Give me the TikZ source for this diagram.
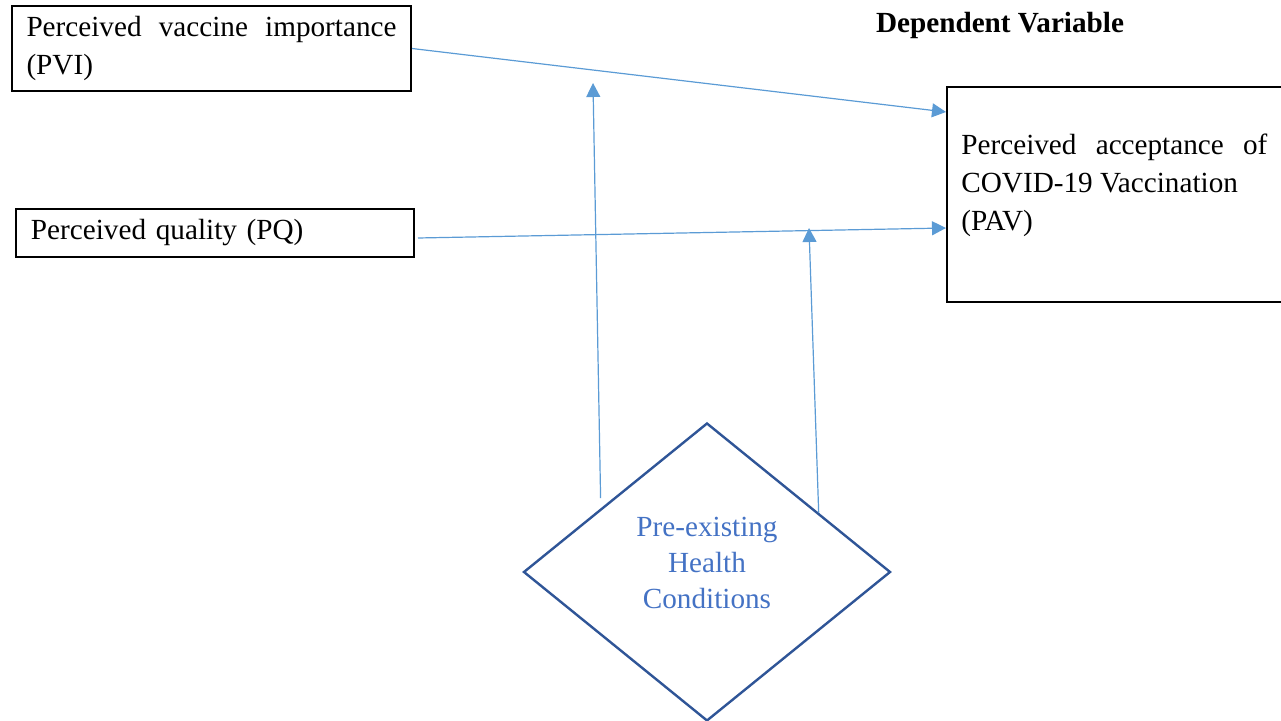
\documentclass[tikz,border=0pt]{standalone}
\usepackage{fontspec}
\setmainfont{Liberation Serif}
\usetikzlibrary{shapes.geometric,arrows.meta,calc}
\definecolor{linkblue}{HTML}{5B9BD5}
\definecolor{hcborder}{HTML}{2F5597}
\definecolor{hctext}{HTML}{4472C4}
\begin{document}
\begin{tikzpicture}[x=0.5pt,y=-0.5pt,>={Triangle[length=7pt,width=7pt]},
	font=\fontsize{14.6}{19}\selectfont,
	varbox/.style={draw,line width=1pt,rectangle,inner ysep=0pt,anchor=north west},
	link/.style={->,linkblue,line width=0.6pt}]
	\useasboundingbox (0,0) rectangle (1281,721);
	\node[varbox,text width=185pt,inner xsep=7.25pt,minimum height=42.5pt,align=justify] (pvi) at (11,5) {Perceived vaccine importance (PVI)};
	\node[varbox,text width=184pt,inner xsep=7.5pt,minimum height=24pt,align=left] (pq) at (15,208) {Perceived quality (PQ)};
	\node[varbox,minimum width=175pt,minimum height=107.5pt] (pavbox) at (946,86) {};
	\node[anchor=north west,inner sep=0pt,text width=153pt,align=justify] (pav) at (961,134) {Perceived acceptance of COVID-19 Vaccination\\(PAV)};
	\node[font=\fontsize{14.6}{19}\selectfont\bfseries] (dv) at (1000,25) {Dependent Variable};
	\node[diamond,draw=hcborder,line width=1.2pt,text=hctext,align=center,inner sep=0pt,minimum width=183.5pt,minimum height=149pt,font=\fontsize{14.6}{18}\selectfont] (hc) at (707,572) {Pre-existing\\Health\\Conditions\\[-9pt]\mbox{}};
	\coordinate (m1) at (593,83);
	\coordinate (m2) at (809,228);
	\draw[link] (pvi.east) -- ($(pavbox.north west)+(0,26)$);
	\draw[link] ($(pq.east)+(3,5)$) -- ($(pavbox.north west)+(0,142)$);
	\draw[link,shorten <=5pt] (hc.149) -- (m1);
	\draw[link] (hc.28) -- (m2);
\end{tikzpicture}
\end{document}
